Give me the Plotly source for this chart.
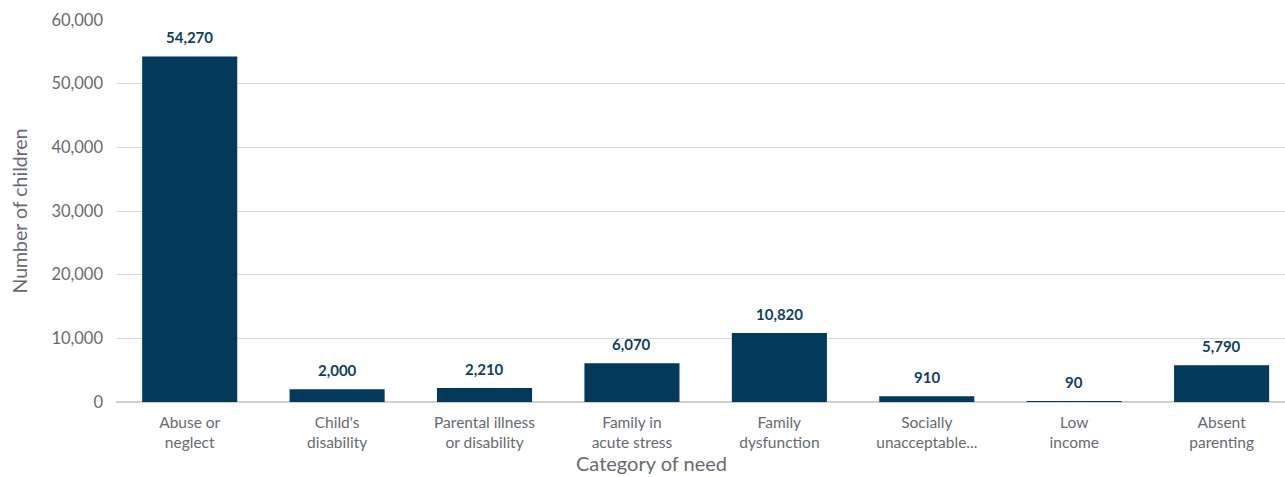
import plotly.graph_objects as go

categories = ["Abuse or<br>neglect", "Child's<br>disability", "Parental illness<br>or disability",
              "Family in<br>acute stress", "Family<br>dysfunction", "Socially<br>unacceptable...",
              "Low<br>income", "Absent<br>parenting"]
values = [54270, 2000, 2210, 6070, 10820, 910, 90, 5790]
y_ticks = [0, 10000, 20000, 30000, 40000, 50000, 60000]

BAR = "#03395b"
LABEL = "#0e3f60"
GRAY = "#666b70"
FONT = "Lato, 'Open Sans', sans-serif"

fig = go.Figure()
fig.add_trace(go.Bar(x=categories, y=values, marker=dict(color=BAR, line=dict(width=0)),
                     hoverinfo="skip"))

for c, v in zip(categories, values):
    fig.add_annotation(x=c, y=v, text=f"<b>{v:,}</b>", showarrow=False, yanchor="bottom",
                       yshift=8, font=dict(family=FONT, size=15, color=LABEL))

fig.add_annotation(xref="paper", yref="paper", x=(651 - 116) / 1169, y=0, yshift=-61,
                   yanchor="middle", xanchor="center", text="Category of need", showarrow=False,
                   font=dict(family=FONT, size=20, color=GRAY))

fig.update_layout(
    width=1285, height=477,
    margin=dict(l=116, r=0, t=20, b=74.5),
    plot_bgcolor="white", paper_bgcolor="white",
    bargap=0.355,
    showlegend=False,
    font=dict(family=FONT, color=GRAY, size=14),
    xaxis=dict(range=[-0.5, 7.43], tickfont=dict(size=15.5, color=GRAY), showgrid=False,
               ticks="", showline=False, fixedrange=True, ticklabelstandoff=9),
    yaxis=dict(range=[0, 60000], tickvals=y_ticks, tickformat=",", showgrid=True,
               gridcolor="#d9d9d9", gridwidth=1, zeroline=True, zerolinecolor="#d0d0d0",
               zerolinewidth=1.5, tickfont=dict(size=16.5, color=GRAY), ticklabelstandoff=12,
               title=dict(text="Number of children", font=dict(size=19.5, color=GRAY), standoff=18),
               fixedrange=True),
)

fig.write_html("out.html", config={"displayModeBar": False})
